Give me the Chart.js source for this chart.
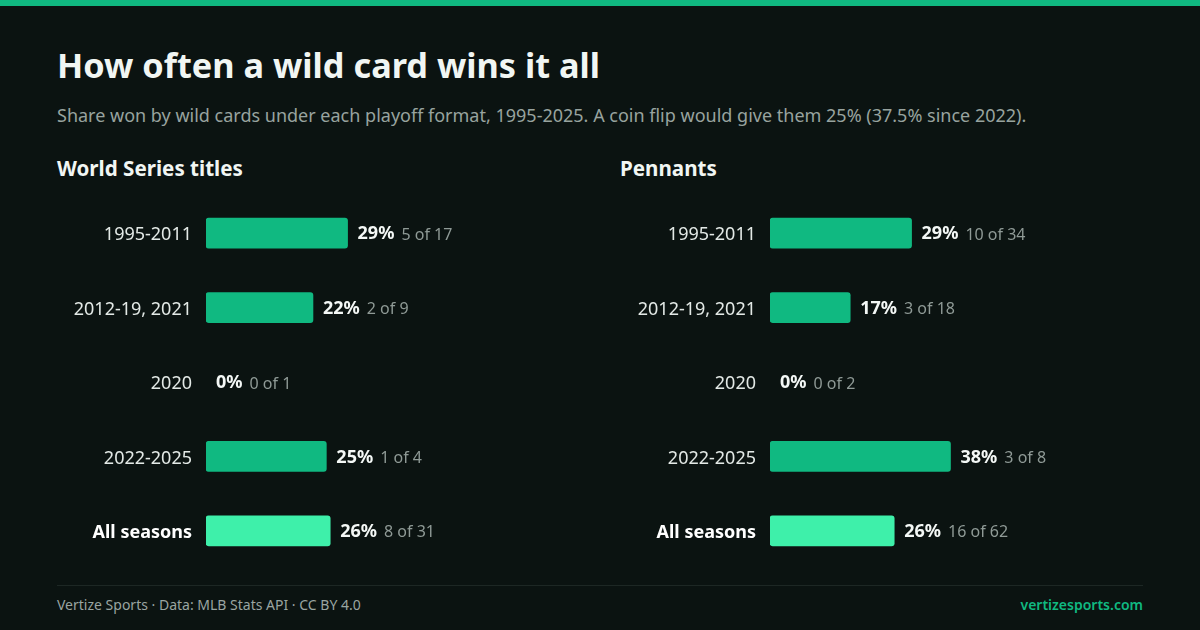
<!DOCTYPE html>
<html>
<head>
<meta charset="utf-8">
<script src="https://cdn.jsdelivr.net/npm/chart.js@4.4.1/dist/chart.umd.min.js"></script>
<style>
  html, body { margin: 0; padding: 0; }
  body {
    width: 1200px; height: 630px; overflow: hidden; position: relative;
    background: #0b1311; font-family: "Noto Sans", sans-serif; color: #eef3f0;
  }
  .stripe { position: absolute; left: 0; top: 0; width: 1200px; height: 6px; background: #10b981; }
  h1 { position: absolute; left: 57px; top: 42px; margin: 0; font-size: 34.3px; font-weight: 700; line-height: 46px; color: #f1f6f3; }
  .sub { position: absolute; left: 57px; top: 103px; margin: 0; font-size: 18px; line-height: 24px; color: #98a39f; }
  h2 { position: absolute; top: 155px; margin: 0; font-size: 20.6px; font-weight: 700; line-height: 26px; color: #f1f6f3; }
  canvas.panel { position: absolute; top: 196px; }
  .rule { position: absolute; left: 57px; top: 585px; width: 1086px; height: 1px; background: #1d2724; }
  .foot { position: absolute; top: 595px; font-size: 14px; line-height: 20px; color: #9aa5a1; }
  .foot.right { right: 57px; color: #10b981; font-weight: 600; }
</style>
</head>
<body>
<div class="stripe"></div>
<h1>How often a wild card wins it all</h1>
<p class="sub">Share won by wild cards under each playoff format, 1995-2025. A coin flip would give them 25% (37.5% since 2022).</p>

<h2 style="left:57px">World Series titles</h2>
<canvas id="wsChart" class="panel" width="523" height="372" style="left:57px"></canvas>

<h2 style="left:620px">Pennants</h2>
<canvas id="pennantChart" class="panel" width="523" height="372" style="left:621px"></canvas>

<div class="rule"></div>
<div class="foot" style="left:57px">Vertize Sports · Data: MLB Stats API · CC BY 4.0</div>
<div class="foot right">vertizesports.com</div>

<script>
// ===== DATA =====
const formats = ["1995-2011", "2012-19, 2021", "2020", "2022-2025", "All seasons"];

const wsWins = [5, 2, 0, 1, 8];
const wsTotals = [17, 9, 1, 4, 31];

const pennantWins = [10, 3, 0, 3, 16];
const pennantTotals = [34, 18, 2, 8, 62];

const BAR = "#10b981";
const BAR_ALL = "#3ef0aa";

// étiquettes "29% 5 of 17" à droite des barres
const valueLabels = {
  id: "valueLabels",
  afterDatasetsDraw(chart) {
    const { ctx } = chart;
    const meta = chart.getDatasetMeta(0);
    const { wins, totals } = chart.options.plugins.valueLabels;
    ctx.save();
    ctx.textBaseline = "middle";
    ctx.textAlign = "left";
    meta.data.forEach((bar, i) => {
      const pct = Math.round((wins[i] / totals[i]) * 100) + "%";
      const x = bar.x + 10;
      const y = bar.y + 1;
      ctx.font = "700 18px 'Noto Sans'";
      ctx.fillStyle = "#f4f8f6";
      ctx.fillText(pct, x, y);
      const w = ctx.measureText(pct).width;
      ctx.font = "400 16px 'Noto Sans'";
      ctx.fillStyle = "#8f9a96";
      ctx.fillText(`${wins[i]} of ${totals[i]}`, x + w + 7, y + 1);
    });
    ctx.restore();
  },
};

function makeChart(id, wins, totals) {
  const shares = wins.map((w, i) => w / totals[i]);
  const last = formats.length - 1;

  return new Chart(document.getElementById(id), {
    type: "bar",
    data: {
      labels: formats,
      datasets: [
        {
          data: shares,
          backgroundColor: shares.map((v, i) =>
            v === 0 ? "transparent" : i === last ? BAR_ALL : BAR
          ),
          borderRadius: 3,
          borderSkipped: false,
          barThickness: 30,
        },
      ],
    },
    options: {
      indexAxis: "y",
      responsive: false,
      animation: false,
      layout: { padding: 0 },
      plugins: {
        legend: { display: false },
        tooltip: { enabled: false },
        valueLabels: { wins, totals },
      },
      scales: {
        x: { display: false, min: 0, max: 0.777 },
        y: {
          afterFit: (scale) => {
            scale.width = 149;
            // pas de marge haute/basse : les lignes occupent toute la hauteur
            scale.paddingTop = 0;
            scale.paddingBottom = 0;
          },
          grid: { display: false, drawTicks: false },
          border: { display: false },
          ticks: {
            padding: 14,
            labelOffset: 2,
            color: (c) => (c.index === last ? "#ffffff" : "#e3e9e6"),
            font: (c) => ({
              family: "'Noto Sans'",
              size: 18,
              weight: c.index === last ? "700" : "400",
            }),
          },
        },
      },
    },
    plugins: [valueLabels],
  });
}

document.addEventListener("DOMContentLoaded", () => {
  makeChart("wsChart", wsWins, wsTotals);
  makeChart("pennantChart", pennantWins, pennantTotals);
});
</script>
</body>
</html>
